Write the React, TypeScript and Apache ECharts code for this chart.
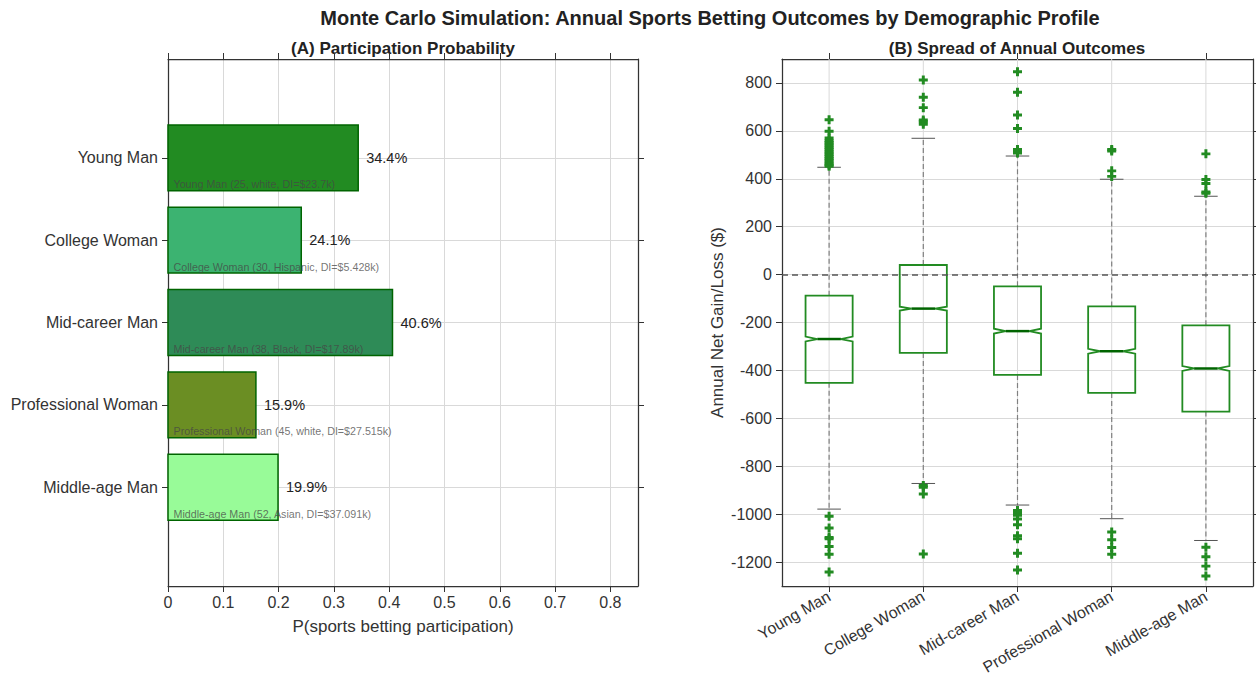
import React, { useEffect, useRef } from "react";
import * as echarts from "echarts";

const FONT = "Liberation Sans, Arial, Helvetica, sans-serif";

// ---- Panel A data ----
const categories = ["Young Man", "College Woman", "Mid-career Man", "Professional Woman", "Middle-age Man"];
const participation = [0.344, 0.241, 0.406, 0.159, 0.199];
const barColors = ["#228B22", "#3CB371", "#2E8B57", "#6B8E23", "#98FB98"];
const profileNotes = [
  "Young Man (25, white, DI=$23.7k)",
  "College Woman (30, Hispanic, DI=$5.428k)",
  "Mid-career Man (38, Black, DI=$17.89k)",
  "Professional Woman (45, white, DI=$27.515k)",
  "Middle-age Man (52, Asian, DI=$37.091k)",
];
const xTicksA = [0, 0.1, 0.2, 0.3, 0.4, 0.5, 0.6, 0.7, 0.8];
const yTicksA = [0, 1, 2, 3, 4];

// ---- Panel B data ----
const q1 = [-452, -327, -419, -494, -572];
const median = [-269, -142, -236, -320, -392];
const q3 = [-88, 40, -49, -133, -212];
const whiskerLow = [-979, -872, -962, -1019, -1110];
const whiskerHigh = [448, 569, 495, 398, 327];
const notchHalf = [10, 8, 10, 10, 10];
const fliersYoungMan = [646, 598, 570, 560, 552, 545, 538, 530, 523, 515, 508, 500, 493, 485, 478, 470, 463, 457, 452, -1009, -1058, -1097, -1103, -1135, -1167, -1242];
const fliersCollegeWoman = [812, 740, 697, 645, 638, 628, -880, -888, -916, -1166];
const fliersMidCareerMan = [847, 761, 666, 610, 522, 515, 508, -985, -995, -1005, -1020, -1044, -1090, -1103, -1163, -1233];
const fliersProfessionalWoman = [522, 516, 433, 410, -1075, -1107, -1139, -1167];
const fliersMiddleAgeMan = [504, 397, 380, 345, 340, -1138, -1178, -1217, -1258];
const fliers = [fliersYoungMan, fliersCollegeWoman, fliersMidCareerMan, fliersProfessionalWoman, fliersMiddleAgeMan];
const yTicksB = [-1200, -1000, -800, -600, -400, -200, 0, 200, 400, 600, 800];

const PLUS = "path://M-1,-0.33L-0.33,-0.33L-0.33,-1L0.33,-1L0.33,-0.33L1,-0.33L1,0.33L0.33,0.33L0.33,1L-0.33,1L-0.33,0.33L-1,0.33Z";

const frame = { show: true, onZero: false, lineStyle: { color: "#333", width: 1.25 } };
const tick = { show: true, inside: false, length: 6, lineStyle: { color: "#333", width: 1 } };
const gridLine = { show: true, lineStyle: { color: "#d9d9d9", width: 1 } };
const labelStyle = { color: "#333", fontSize: 16, fontFamily: FONT };

export default function App() {
  const ref = useRef<HTMLDivElement>(null);
  useEffect(() => {
    const chart = echarts.init(ref.current!, null, { renderer: "svg" });

    const barData = participation.map((v, i) => [v, i]);
    const boxData = categories.map((_, i) => [i, q1[i], median[i], q3[i], whiskerLow[i], whiskerHigh[i], notchHalf[i]]);
    const flierData: number[][] = [];
    fliers.forEach((arr, i) => arr.forEach((v) => flierData.push([i, v])));

    const option: any = {
      animation: false,
      backgroundColor: "#fff",
      textStyle: { fontFamily: FONT },
      graphic: [
        { type: "text", x: 710, y: 18, style: { text: "Monte Carlo Simulation: Annual Sports Betting Outcomes by Demographic Profile", font: `bold 20px ${FONT}`, fill: "#222", align: "center", verticalAlign: "middle" } },
        { type: "text", x: 403, y: 48, style: { text: "(A) Participation Probability", font: `bold 17px ${FONT}`, fill: "#222", align: "center", verticalAlign: "middle" } },
        { type: "text", x: 1017, y: 48, style: { text: "(B) Spread of Annual Outcomes", font: `bold 17px ${FONT}`, fill: "#222", align: "center", verticalAlign: "middle" } },
      ],
      grid: [
        { left: 168, top: 59, width: 470, height: 527 },
        { left: 782, top: 59, width: 471, height: 527 },
      ],
      xAxis: [
        {
          gridIndex: 0, type: "value", min: 0, max: 0.85, interval: 0.1, position: "bottom",
          axisLine: frame, axisTick: { ...tick, customValues: xTicksA },
          axisLabel: { ...labelStyle, margin: 8, customValues: xTicksA, formatter: (v: number) => (v === 0 ? "0" : v.toFixed(1)) },
          splitLine: gridLine,
          name: "P(sports betting participation)", nameLocation: "middle", nameGap: 32,
          nameTextStyle: { color: "#333", fontSize: 17, fontFamily: FONT },
        },
        {
          gridIndex: 0, type: "value", min: 0, max: 0.85, interval: 0.1, position: "top",
          axisLine: frame, axisTick: { ...tick, customValues: xTicksA },
          axisLabel: { show: false }, splitLine: { show: false },
        },
        {
          gridIndex: 1, type: "category", data: categories, position: "bottom",
          axisLine: frame, axisTick: { ...tick, alignWithLabel: true },
          axisLabel: { ...labelStyle, rotate: 30, margin: 9 },
          splitLine: { show: false },
        },
        {
          gridIndex: 1, type: "category", data: categories, position: "top",
          axisLine: frame, axisTick: { ...tick, alignWithLabel: true },
          axisLabel: { show: false }, splitLine: { show: false },
        },
      ],
      yAxis: [
        {
          gridIndex: 0, type: "value", min: -1.2, max: 5.2, inverse: true, position: "left",
          axisLine: frame, axisTick: { ...tick, customValues: yTicksA },
          axisLabel: { ...labelStyle, margin: 10, customValues: yTicksA, formatter: (v: number) => categories[Math.round(v)] ?? "" },
          splitLine: gridLine,
        },
        {
          gridIndex: 0, type: "value", min: -1.2, max: 5.2, inverse: true, position: "right",
          axisLine: frame, axisTick: { ...tick, customValues: yTicksA },
          axisLabel: { show: false }, splitLine: { show: false },
        },
        {
          gridIndex: 1, type: "value", min: -1300, max: 900, position: "left",
          axisLine: frame, axisTick: { ...tick, customValues: yTicksB },
          axisLabel: { ...labelStyle, margin: 10, customValues: yTicksB, formatter: (v: number) => String(v) },
          splitLine: gridLine,
          name: "Annual Net Gain/Loss ($)", nameLocation: "middle", nameGap: 56,
          nameTextStyle: { color: "#333", fontSize: 17, fontFamily: FONT },
        },
        {
          gridIndex: 1, type: "value", min: -1300, max: 900, position: "right",
          axisLine: frame, axisTick: { ...tick, customValues: yTicksB },
          axisLabel: { show: false }, splitLine: { show: false },
        },
      ],
      series: [
        {
          type: "custom",
          xAxisIndex: 0, yAxisIndex: 0,
          data: barData,
          z: 3,
          renderItem: (params: any, api: any) => {
            const v = api.value(0);
            const i = api.value(1);
            const p0 = api.coord([0, i - 0.4]);
            const p1 = api.coord([v, i + 0.4]);
            const top = Math.min(p0[1], p1[1]);
            const h = Math.abs(p1[1] - p0[1]);
            const c = api.coord([v, i]);
            const n = api.coord([0.01, i + 0.32]);
            const idx = params.dataIndex;
            return {
              type: "group",
              children: [
                { type: "rect", shape: { x: p0[0], y: top, width: p1[0] - p0[0], height: h }, style: { fill: barColors[idx], stroke: "#006400", lineWidth: 1.5 } },
                { type: "text", x: c[0] + 8, y: c[1], style: { text: (v * 100).toFixed(1) + "%", font: `14.5px ${FONT}`, fill: "#222", align: "left", verticalAlign: "middle" } },
                { type: "text", x: n[0], y: n[1], style: { text: profileNotes[idx], font: `10.7px ${FONT}`, fill: "rgba(70,70,70,0.75)", align: "left", verticalAlign: "middle" } },
              ],
            };
          },
        },
        {
          type: "custom",
          xAxisIndex: 2, yAxisIndex: 2,
          data: boxData,
          encode: { x: 0, y: [1, 2, 3, 4, 5] },
          z: 3,
          renderItem: (params: any, api: any) => {
            const i = api.value(0);
            const vq1 = api.value(1), vmed = api.value(2), vq3 = api.value(3), vwl = api.value(4), vwh = api.value(5), nh = api.value(6);
            const band = api.size([1, 0])[0];
            const w = band * 0.5;
            const cx = api.coord([i, vmed])[0];
            const y = (v: number) => api.coord([i, v])[1];
            const L = cx - w / 2, R = cx + w / 2, cl = cx - w / 4, cr = cx + w / 4;
            const cs = params.coordSys;
            const dashStyle = { stroke: "#808080", lineWidth: 1.2, lineDash: [5, 3] };
            const capStyle = { stroke: "#555", lineWidth: 1 };
            return {
              type: "group",
              children: [
                { type: "line", shape: { x1: cx, y1: cs.y, x2: cx, y2: cs.y + cs.height }, style: { stroke: "#d9d9d9", lineWidth: 1 }, z2: 0 },
                { type: "line", shape: { x1: cx, y1: y(vq3), x2: cx, y2: y(vwh) }, style: dashStyle, z2: 1 },
                { type: "line", shape: { x1: cx, y1: y(vq1), x2: cx, y2: y(vwl) }, style: dashStyle, z2: 1 },
                { type: "line", shape: { x1: cl, y1: y(vwh), x2: cr, y2: y(vwh) }, style: capStyle, z2: 1 },
                { type: "line", shape: { x1: cl, y1: y(vwl), x2: cr, y2: y(vwl) }, style: capStyle, z2: 1 },
                {
                  type: "polygon",
                  shape: {
                    points: [
                      [L, y(vq1)], [R, y(vq1)], [R, y(vmed - nh)], [cr, y(vmed)], [R, y(vmed + nh)],
                      [R, y(vq3)], [L, y(vq3)], [L, y(vmed + nh)], [cl, y(vmed)], [L, y(vmed - nh)],
                    ],
                  },
                  style: { fill: "none", stroke: "#228B22", lineWidth: 1.8 },
                  z2: 2,
                },
                { type: "line", shape: { x1: cl, y1: y(vmed), x2: cr, y2: y(vmed) }, style: { stroke: "#006400", lineWidth: 2.5 }, z2: 3 },
              ],
            };
          },
        },
        {
          type: "scatter",
          xAxisIndex: 2, yAxisIndex: 2,
          data: flierData,
          symbol: PLUS,
          symbolSize: 9,
          itemStyle: { color: "#228B22", opacity: 1 },
          z: 5,
          markLine: {
            silent: true,
            symbol: "none",
            label: { show: false },
            lineStyle: { color: "#555", width: 1.5, type: [6, 4] },
            data: [{ yAxis: 0 }],
          },
        },
      ],
    };
    chart.setOption(option);
    return () => chart.dispose();
  }, []);
  return <div ref={ref} style={{ position: "fixed", left: 0, top: 0, width: 1256, height: 684 }} />;
}
